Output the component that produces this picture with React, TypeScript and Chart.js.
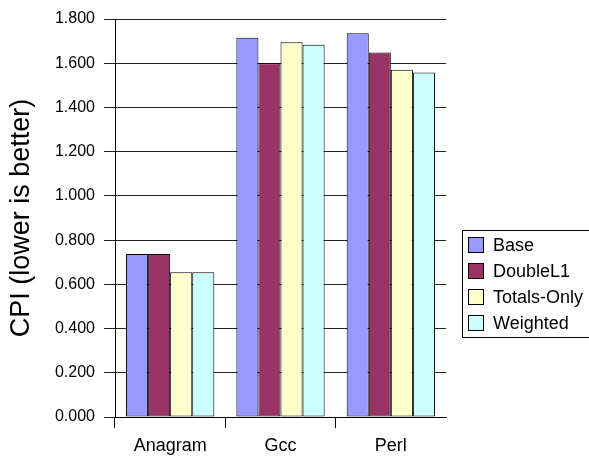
import { useEffect, useRef } from "react";
import { Chart, registerables } from "chart.js";

Chart.register(...registerables);

// Benchmarks on the category axis
const categories = ["Anagram", "Gcc", "Perl"];

// CPI per benchmark for each configuration
const seriesNames = ["Base", "DoubleL1", "Totals-Only", "Weighted"];
const baseCpi = [0.737, 1.715, 1.735];
const doubleL1Cpi = [0.737, 1.6, 1.648];
const totalsOnlyCpi = [0.655, 1.695, 1.57];
const weightedCpi = [0.655, 1.683, 1.558];
const seriesColors = ["#9999FF", "#993366", "#FFFFCC", "#CCFFFF"];

// Value axis
const yMin = 0;
const yMax = 1.8;
const yStep = 0.2;
const yTitle = "CPI (lower is better)";

const FONT = "Arial, 'Liberation Sans', sans-serif";

// Boxed legend at the right of the plot
const boxLegend = {
  id: "boxLegend",
  afterDraw(chart: any) {
    const ctx = chart.ctx as CanvasRenderingContext2D;
    ctx.save();
    ctx.strokeStyle = "#000";
    ctx.lineWidth = 1;
    ctx.strokeRect(462.5, 230.5, 140, 107);
    ctx.font = `18px ${FONT}`;
    ctx.textBaseline = "middle";
    ctx.textAlign = "left";
    chart.data.datasets.forEach((ds: any, i: number) => {
      const cy = 245 + i * 26;
      ctx.fillStyle = ds.backgroundColor;
      ctx.fillRect(468, cy - 8, 16, 16);
      ctx.strokeStyle = "#000";
      ctx.strokeRect(468.5, cy - 7.5, 15, 15);
      ctx.fillStyle = "#000";
      ctx.fillText(ds.label, 493, cy + 1);
    });
    ctx.restore();
  },
};

export default function App() {
  const canvasRef = useRef<HTMLCanvasElement | null>(null);

  useEffect(() => {
    if (!canvasRef.current) return;
    const values = [baseCpi, doubleL1Cpi, totalsOnlyCpi, weightedCpi];
    const chart = new Chart(canvasRef.current, {
      type: "bar",
      data: {
        labels: categories,
        datasets: seriesNames.map((name, i) => ({
          label: name,
          data: values[i],
          backgroundColor: seriesColors[i],
          borderColor: "#000",
          borderWidth: 1,
          borderSkipped: false,
          categoryPercentage: 0.8,
          barPercentage: 1.0,
        })),
      },
      options: {
        responsive: false,
        animation: false,
        devicePixelRatio: 1,
        layout: { padding: { top: 19, right: 143, bottom: 0, left: 0 } },
        plugins: {
          legend: { display: false },
          tooltip: { enabled: false },
        },
        scales: {
          x: {
            grid: {
              offset: true,
              drawOnChartArea: false,
              drawTicks: true,
              tickLength: 11,
              color: (c: any) => (c.type === "tick" ? "#000" : "rgba(0,0,0,0)"),
            },
            border: { display: true, color: "#000", width: 1 },
            ticks: {
              font: { size: 18, family: FONT },
              color: "#000",
              padding: 7,
              maxRotation: 0,
            },
            afterFit: (s: any) => {
              s.height = 39;
            },
          },
          y: {
            min: yMin,
            max: yMax,
            ticks: {
              stepSize: yStep,
              callback: (v: any) => Number(v).toFixed(3),
              font: { size: 16, family: FONT },
              color: "#000",
              padding: 9,
            },
            grid: { color: "#222", tickLength: 11 },
            border: { display: true, color: "#000", width: 1 },
            title: {
              display: true,
              text: yTitle,
              font: { size: 27, family: FONT },
              color: "#000",
              padding: { top: 5, bottom: 0 },
            },
            afterFit: (s: any) => {
              s.width = 115;
            },
          },
        },
      },
      plugins: [boxLegend],
    });
    return () => chart.destroy();
  }, []);

  return (
    <div style={{ position: "absolute", left: 0, top: 0, width: 589, height: 456, background: "#fff" }}>
      <canvas ref={canvasRef} width={589} height={456} style={{ display: "block" }} />
    </div>
  );
}
